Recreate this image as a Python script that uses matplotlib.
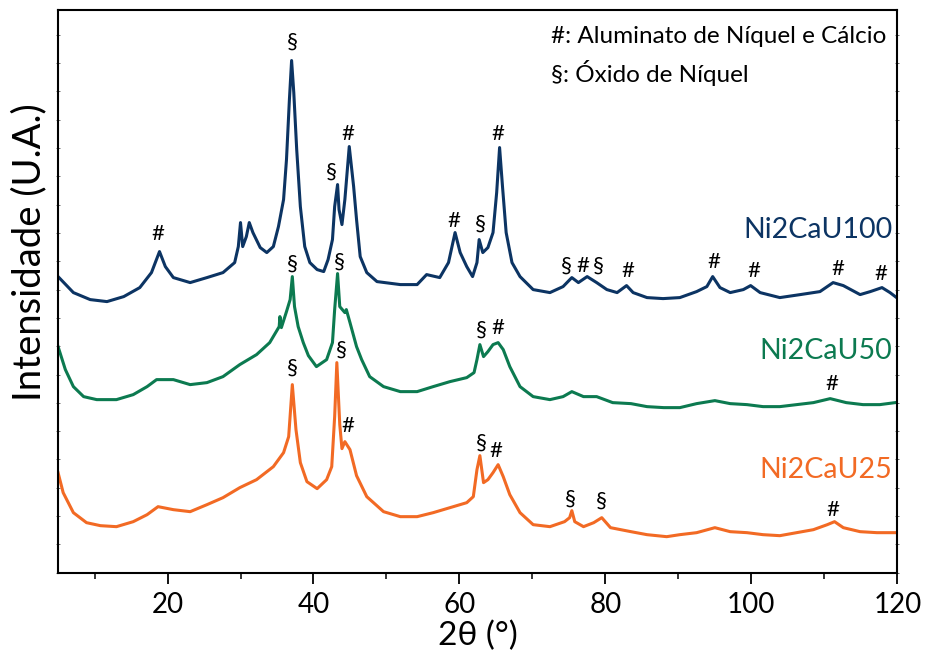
import matplotlib
matplotlib.use("Agg")
import matplotlib.pyplot as plt
from matplotlib.ticker import MultipleLocator

plt.rcParams['font.family'] = ['Lato', 'DejaVu Sans']

# ---- data (2theta in degrees, intensity in arbitrary units, offsets included) ----
tt_u100 = [5.0, 7.1, 9.4, 11.7, 14.0, 16.2, 17.8, 18.9, 19.7, 20.8, 23.1, 25.4, 27.6, 29.2,
           29.7, 30.0, 30.3, 30.8, 31.2, 31.7, 32.7, 33.6, 34.5, 35.2, 35.9, 36.3, 36.7, 37.0,
           37.3, 37.7, 38.2, 38.8, 39.5, 40.5, 41.4, 42.0, 42.6, 42.9, 43.3, 43.5, 43.9, 44.3,
           44.9, 45.5, 45.9, 46.4, 47.3, 48.7, 51.9, 54.2, 55.5, 57.3, 58.5, 59.4, 60.1, 61.0,
           61.8, 62.4, 62.7, 63.2, 63.9, 64.6, 65.1, 65.5, 65.9, 66.4, 67.2, 68.3, 70.1, 72.4,
           74.2, 75.4, 76.3, 77.5, 78.8, 80.2, 81.6, 82.9, 83.8, 85.7, 87.9, 90.2, 92.5, 93.9,
           94.7, 95.7, 97.1, 98.9, 99.9, 101.2, 103.9, 106.7, 109.4, 111.2, 112.6, 114.9, 116.3,
           117.9, 119.0, 119.9]
int_u100 = [296, 280, 273, 271, 276, 285, 300, 321, 306, 295, 290, 295, 300, 310,
            326, 350, 326, 336, 350, 340, 325, 320, 326, 346, 373, 413, 473, 512,
            480, 423, 366, 326, 310, 303, 301, 313, 333, 366, 388, 363, 348, 373,
            426, 386, 353, 316, 300, 291, 288, 288, 298, 295, 310, 340, 320, 306,
            296, 310, 333, 320, 325, 340, 380, 425, 386, 340, 310, 296, 283, 280,
            286, 295, 290, 296, 290, 283, 280, 287, 280, 275, 274, 275, 281, 286,
            296, 285, 280, 283, 287, 280, 275, 278, 281, 290, 287, 278, 281,
            285, 280, 275]

tt_u50 = [5.0, 6.0, 7.1, 8.5, 10.3, 13.0, 15.3, 17.2, 18.5, 20.8, 23.1, 25.4, 27.6, 29.9,
          32.2, 34.0, 35.3, 35.4, 35.6, 36.3, 36.8, 37.1, 37.4, 37.9, 38.6, 39.3, 40.4, 41.8,
          42.6, 42.9, 43.3, 43.6, 44.3, 44.5, 45.0, 45.9, 46.6, 47.7, 49.6, 51.9, 54.2, 56.4,
          58.7, 61.0, 62.0, 62.4, 62.8, 63.3, 63.9, 64.6, 65.3, 66.0, 66.9, 68.3, 70.1, 72.4,
          74.2, 75.4, 77.0, 78.8, 81.0, 83.5, 85.7, 88.0, 90.2, 92.5, 95.0, 97.1, 99.4, 101.6,
          103.9, 106.2, 108.5, 110.8, 113.0, 115.3, 117.6, 119.7]
int_u50 = [226, 203, 186, 176, 173, 173, 178, 186, 193, 193, 188, 190, 196, 208,
           218, 230, 246, 256, 245, 261, 273, 296, 266, 246, 230, 217, 206, 213,
           230, 263, 299, 266, 260, 263, 250, 226, 213, 196, 186, 181, 181, 186,
           191, 195, 200, 213, 228, 216, 221, 228, 230, 223, 206, 186, 176, 173,
           176, 181, 176, 176, 170, 169, 166, 165, 165, 169, 172, 169, 168, 166,
           166, 168, 170, 174, 170, 168, 168, 170]

tt_u25 = [5.0, 5.7, 7.1, 8.9, 10.8, 13.0, 15.3, 17.2, 18.7, 20.8, 23.1, 25.4, 27.6, 29.9,
          32.2, 34.5, 35.9, 36.6, 37.1, 37.6, 38.2, 39.1, 40.5, 41.8, 42.5, 42.9, 43.2, 43.6,
          43.9, 44.3, 45.0, 45.9, 47.3, 49.6, 51.9, 54.2, 56.4, 58.7, 61.0, 61.9, 62.4, 62.8,
          63.3, 63.9, 64.6, 65.3, 66.0, 66.9, 68.3, 70.1, 72.4, 74.4, 75.1, 75.4, 75.8, 77.0,
          78.4, 79.5, 80.7, 82.1, 83.5, 85.7, 88.4, 90.2, 92.5, 95.0, 97.1, 99.4, 101.6, 103.9,
          106.2, 108.5, 110.4, 111.4, 112.6, 114.9, 117.2, 119.7]
int_u25 = [100, 80, 60, 50, 47, 46, 51, 58, 66, 63, 61, 68, 75, 85,
           93, 106, 120, 136, 188, 143, 110, 91, 84, 93, 106, 156, 210, 148,
           124, 131, 123, 97, 76, 61, 56, 56, 60, 65, 70, 76, 103, 117,
           90, 93, 100, 108, 96, 78, 60, 48, 46, 51, 55, 62, 51, 46,
           50, 55, 45, 43, 41, 38, 36, 38, 40, 45, 41, 40, 38, 37,
           40, 43, 48, 51, 45, 41, 40, 40]

sample_names = ['Ni2CaU100', 'Ni2CaU50', 'Ni2CaU25']
colors = ['#0c3463', '#0c7a50', '#f26a24']

# phase markers: (2theta, height, symbol)
marks_u100 = [(18.7, 339, '#'), (37.1, 531, '§'), (42.4, 401, '§'), (44.7, 439, '#'),
              (59.3, 352, '#'), (62.8, 349, '§'), (65.3, 439, '#'), (74.6, 307, '§'),
              (76.9, 307, '#'), (79.1, 307, '§'), (83.1, 302, '#'), (94.8, 311, '#'),
              (100.4, 302, '#'), (111.8, 304, '#'), (117.8, 299, '#')]
marks_u50 = [(37.1, 309, '§'), (43.5, 311, '§'), (63.0, 243, '§'), (65.3, 245, '#'),
             (111.0, 189, '#')]
marks_u25 = [(37.1, 205, '§'), (43.8, 223, '§'), (44.7, 147, '#'), (63.0, 130, '§'),
             (65.0, 122, '#'), (75.2, 74, '§'), (79.4, 72, '§'), (111.2, 63, '#')]

label_heights = [343, 222, 103]
legend_lines = ['#: Aluminato de Níquel e Cálcio', '§: Óxido de Níquel']

# ---- figure ----
fig = plt.figure(figsize=(9.29, 6.60), dpi=100)
ax = fig.add_axes([0.0625, 0.1323, 0.9034, 0.8533])

for tt, it, c in zip([tt_u100, tt_u50, tt_u25], [int_u100, int_u50, int_u25], colors):
    ax.plot(tt, it, color=c, lw=2.2, solid_joinstyle='round')

for marks in (marks_u100, marks_u50, marks_u25):
    for x, y, s in marks:
        ax.text(x, y, s, ha='center', va='center', fontsize=16, color='black')

for name, h, c in zip(sample_names, label_heights, colors):
    ax.text(119.3, h, name, ha='right', va='center', fontsize=20.5, color=c)

ax.text(72.5, 536, legend_lines[0], ha='left', va='center', fontsize=17.5, color='black')
ax.text(72.5, 500, legend_lines[1], ha='left', va='center', fontsize=17.5, color='black')

ax.set_xlim(5, 120)
ax.set_ylim(0, 563)
ax.xaxis.set_major_locator(MultipleLocator(20))
ax.xaxis.set_minor_locator(MultipleLocator(10))
ax.yaxis.set_major_locator(MultipleLocator(28.3))
ax.set_yticklabels([])
ax.tick_params(axis='x', which='major', direction='out', length=8, width=1.3,
               labelsize=20, pad=6)
ax.tick_params(axis='x', which='minor', direction='out', length=4, width=1.1)
ax.tick_params(axis='y', which='major', direction='inout', length=3, width=0.6,
               left=True, right=True, labelleft=False, color='#555555')
for sp in ax.spines.values():
    sp.set_linewidth(1.5)

ax.set_xlabel('2θ (°)', fontsize=24, labelpad=2)
fig.text(29 / 929, 1 - 252 / 660, 'Intensidade (U.A.)', rotation=90,
         ha='center', va='center', fontsize=27.5)

fig.savefig('out.png', dpi=100)
